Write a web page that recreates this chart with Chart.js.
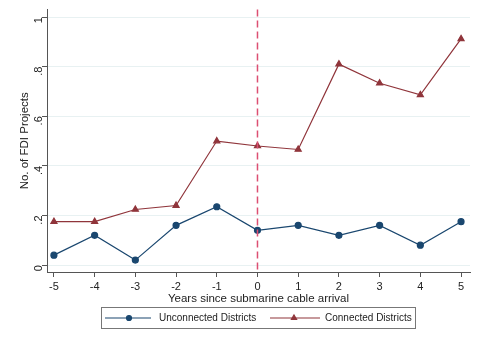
<!DOCTYPE html>
<html>
<head>
<meta charset="utf-8">
<script src="https://cdn.jsdelivr.net/npm/chart.js@4/dist/chart.umd.min.js"></script>
<style>
  body { margin: 0; background: #fff; }
</style>
</head>
<body>
<canvas id="fdi" width="481" height="340"></canvas>
<script>
// years relative to cable arrival
var years = [-5, -4, -3, -2, -1, 0, 1, 2, 3, 4, 5];
var unconnected = [0.04, 0.12, 0.02, 0.16, 0.235, 0.14, 0.16, 0.12, 0.16, 0.08, 0.175];
var connected = [0.175, 0.175, 0.224, 0.24, 0.50, 0.48, 0.466, 0.81, 0.733, 0.686, 0.912];
var yTicks = [0, 0.2, 0.4, 0.6, 0.8, 1];
var yTickLabels = ['0', '.2', '.4', '.6', '.8', '1'];
var cableYear = 0;

var navy = '#1a476f';
var maroon = '#90353b';
var fontFamily = '"Liberation Sans", Arial, sans-serif';

function pts(vals) {
    return years.map(function (x, i) { return { x: x, y: vals[i] }; });
}

// dashed line at arrival year
var arrivalLine = {
    id: 'arrivalLine',
    afterDatasetsDraw: function (chart) {
        var ctx = chart.ctx, a = chart.chartArea;
        var x = chart.scales.x.getPixelForValue(cableYear);
        ctx.save();
        ctx.strokeStyle = '#dc4f72';
        ctx.lineWidth = 1.5;
        ctx.setLineDash([7, 4]);
        ctx.beginPath();
        ctx.moveTo(x, a.top);
        ctx.lineTo(x, a.bottom);
        ctx.stroke();
        ctx.restore();
    }
};

// stata style boxed legend
var boxLegend = {
    id: 'boxLegend',
    afterDraw: function (chart) {
        var ctx = chart.ctx;
        var ds = chart.data.datasets;
        var entries = [
            { x0: 105, x1: 151, mark: 129, text: 159 },
            { x0: 270, x1: 320, mark: 294, text: 325 }
        ];
        var y = 318;
        ctx.save();
        ctx.strokeStyle = '#777';
        ctx.lineWidth = 1;
        ctx.strokeRect(101.5, 307.5, 314, 21);
        ctx.font = '10px ' + fontFamily;
        ctx.textBaseline = 'middle';
        entries.forEach(function (e, i) {
            ctx.strokeStyle = ds[i].borderColor;
            ctx.lineWidth = 1.2;
            ctx.beginPath();
            ctx.moveTo(e.x0, y);
            ctx.lineTo(e.x1, y);
            ctx.stroke();
            ctx.fillStyle = ds[i].pointBackgroundColor;
            ctx.strokeStyle = ds[i].pointBorderColor;
            Chart.helpers.drawPoint(ctx, {
                pointStyle: ds[i].pointStyle,
                radius: ds[i].pointRadius - 0.5,
                borderWidth: 1
            }, e.mark, y);
            ctx.fillStyle = '#222';
            ctx.fillText(ds[i].label, e.text, y);
        });
        ctx.restore();
    }
};

var ctx = document.getElementById('fdi').getContext('2d');
var fdiChart = new Chart(ctx, {
    type: 'line',
    data: {
        datasets: [
            {
                label: 'Unconnected Districts',
                data: pts(unconnected),
                borderColor: navy,
                backgroundColor: navy,
                pointBackgroundColor: navy,
                pointBorderColor: navy,
                pointStyle: 'circle',
                pointRadius: 3,
                borderWidth: 1.2
            },
            {
                label: 'Connected Districts',
                data: pts(connected),
                borderColor: maroon,
                backgroundColor: maroon,
                pointBackgroundColor: maroon,
                pointBorderColor: maroon,
                pointStyle: 'triangle',
                pointRadius: 3.5,
                borderWidth: 1.2
            }
        ]
    },
    options: {
        responsive: false,
        animation: false,
        layout: { padding: { top: 6, right: 11, bottom: 34, left: 0 } },
        plugins: {
            legend: { display: false },
            tooltip: { enabled: false }
        },
        scales: {
            x: {
                type: 'linear',
                min: -5.17,
                max: 5.22,
                afterBuildTicks: function (s) {
                    s.ticks = years.map(function (v) { return { value: v }; });
                },
                afterFit: function (s) { s.height = 34; },
                grid: { drawOnChartArea: false, tickColor: '#555', tickLength: 5 },
                border: { color: '#555', width: 1 },
                ticks: {
                    color: '#222',
                    padding: 3,
                    maxRotation: 0,
                    font: { family: fontFamily, size: 11 }
                },
                title: {
                    display: true,
                    text: 'Years since submarine cable arrival',
                    color: '#222',
                    padding: { top: 0, bottom: 0 },
                    font: { family: fontFamily, size: 11.5 }
                }
            },
            y: {
                min: -0.028,
                max: 1.03,
                afterBuildTicks: function (s) {
                    s.ticks = yTicks.map(function (v) { return { value: v }; });
                },
                afterFit: function (s) { s.width = 47; },
                grid: { color: '#e8f1f2', tickColor: '#555', tickLength: 5 },
                border: { color: '#555', width: 1 },
                ticks: {
                    color: '#222',
                    padding: 3,
                    minRotation: 90,
                    maxRotation: 90,
                    font: { family: fontFamily, size: 11 },
                    callback: function (v) {
                        var i = yTicks.indexOf(v);
                        return i >= 0 ? yTickLabels[i] : '';
                    }
                },
                title: {
                    display: true,
                    text: 'No. of FDI Projects',
                    color: '#222',
                    padding: { top: 18, bottom: 0 },
                    font: { family: fontFamily, size: 11.5 }
                }
            }
        }
    },
    plugins: [arrivalLine, boxLegend]
});
</script>
</body>
</html>
